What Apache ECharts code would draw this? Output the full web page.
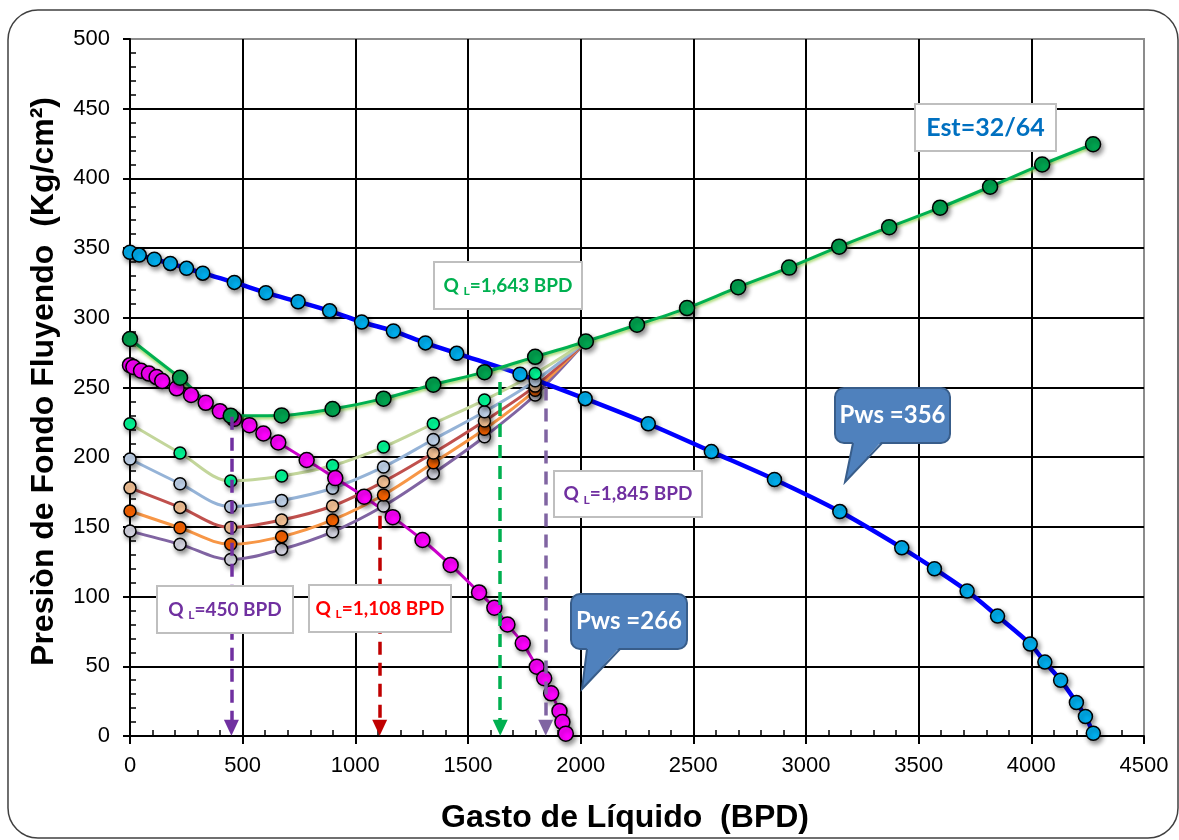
<!DOCTYPE html>
<html><head><meta charset="utf-8">
<script src="https://cdn.jsdelivr.net/npm/echarts@6/dist/echarts.min.js"></script>
<style>html,body{margin:0;padding:0;background:#fff}#c{width:1179px;height:840px}</style>
</head><body><div id="c"></div>
<script>
// ---- data ----
const qBlue = [0, 41, 108, 179, 251, 323, 463, 603, 746, 886, 1028, 1169, 1311, 1450, 1731, 2020, 2300, 2580, 2860, 3150, 3425, 3570, 3715, 3850, 3995, 4060, 4130, 4200, 4240, 4275];
const pBlue = [347, 345, 342, 339, 335.5, 332, 325.4, 318, 311.5, 305, 297, 290.5, 282, 274.5, 259.5, 242, 224, 204, 184, 161, 135, 120, 104, 86, 66, 53, 40, 24, 14, 2];

const qPink = [0, 15, 49, 84, 118, 143, 207, 271, 336, 399, 462, 530, 592, 658, 784, 911, 1039, 1166, 1298, 1423, 1549, 1617, 1675, 1743, 1805, 1838, 1869, 1906, 1919, 1934];
const pPink = [266, 264.7, 262, 260, 257.5, 254.6, 249.4, 244.6, 239, 233, 227.5, 223, 217, 210.6, 198, 185, 171.7, 157, 140.6, 122.7, 103, 92, 80, 66.5, 49.7, 41.4, 30.6, 18, 10, 1.7];

const qGreen = [0, 222, 447, 673, 899, 1125, 1346, 1573, 1798, 2023, 2250, 2472, 2699, 2925, 3147, 3369, 3595, 3817, 4048, 4274];
const pGreen = [284.8, 257, 229.8, 230, 234.6, 242, 252, 261, 272, 283, 295, 307, 322, 336, 351, 365, 379, 394, 410, 424.5];

const qLight = [0, 222, 447, 673, 899, 1125, 1346, 1573, 1798, 2023];
const pLtGreen = [224, 203, 183, 186.5, 194, 207.3, 224, 241, 260, 283];
const pLtBlue  = [198.7, 181, 164.5, 169, 177.7, 193, 212.7, 232.6, 254.9, 283];
const pRed     = [178, 164, 149.6, 155, 165, 182.4, 203, 226, 251, 283];
const pOrange  = [161.4, 149.4, 137.5, 143, 155, 172.9, 196, 220, 248, 283];
const pPurple  = [147, 137.5, 126.6, 134, 146.5, 165, 188.4, 214.7, 244.6, 283];

const arrowQ    = [450, 1108, 1643, 1845];
const arrowTop  = [229, 158, 254, 250];
const arrowBot  = [6, 6, 6, 6];

const xTitle = 'Gasto de Líquido  (BPD)';
const yTitle = 'Presiòn de Fondo Fluyendo  (Kg/cm²)';

// ---- chart ----
const chart = echarts.init(document.getElementById('c'), null, {renderer: 'canvas'});
const pairs = (xs, ys) => xs.map((x, i) => [x, ys[i]]);
const lastNoSym = arr => arr.map((d, i) => i === arr.length - 1 ? {value: d, symbol: 'none'} : d);
const shadow = {shadowBlur: 5, shadowColor: 'rgba(0,0,0,0.45)', shadowOffsetX: 2, shadowOffsetY: 3};

function lightSeries(ys, lineColor, markColor) {
  return {
    type: 'line', data: lastNoSym(pairs(qLight, ys)), smooth: 0.35, clip: false,
    symbol: 'circle', symbolSize: 12,
    lineStyle: {color: lineColor, width: 3},
    itemStyle: Object.assign({color: markColor, borderColor: '#000', borderWidth: 1.5}, shadow),
    emphasis: {disabled: true}, silent: true
  };
}

const arrowColors = ['#7030a0', '#c00000', '#00b050', '#8064a2'];
const markData = arrowQ.map((q, i) => [
  {coord: [q, arrowTop[i]], lineStyle: {color: arrowColors[i]}, itemStyle: {color: arrowColors[i]}},
  {coord: [q, arrowBot[i]], lineStyle: {color: arrowColors[i]}, itemStyle: {color: arrowColors[i]}}
]);

const labFont = 'Lato, "Open Sans", sans-serif';
function qLabel(x, y, w, h, tail, color) {
  return [
    {type: 'rect', z: 100, shape: {x: x, y: y, width: w, height: h}, style: {fill: '#fff', stroke: '#bfbfbf', lineWidth: 2}},
    {type: 'text', z: 101, style: {
      text: '{a|Q }{b|L}{a|' + tail + '}', x: x + w / 2, y: y + h / 2, align: 'center', verticalAlign: 'middle',
      rich: {
        a: {fontFamily: labFont, fontWeight: 'bold', fontSize: 19, fill: color, lineHeight: 24},
        b: {fontFamily: labFont, fontWeight: 'bold', fontSize: 12, fill: color, verticalAlign: 'bottom'}
      }}}
  ];
}
function callout(x, y, w, h, tail, text) {
  return [
    {type: 'rect', z: 100, shape: {x: x, y: y, width: w, height: h, r: 9}, style: {fill: '#4f81bd', stroke: '#385d8a', lineWidth: 2}},
    {type: 'polygon', z: 101, shape: {points: [[tail[0], y + h - 2], [tail[1], y + h - 2], tail[2]]}, style: {fill: '#4f81bd'}},
    {type: 'polyline', z: 102, shape: {points: [[tail[0], y + h], tail[2], [tail[1], y + h]]}, style: {stroke: '#385d8a', lineWidth: 2, fill: null}},
    {type: 'text', z: 103, style: {text: text, x: x + w / 2, y: y + h / 2, align: 'center', verticalAlign: 'middle',
      fontFamily: labFont, fontWeight: 'bold', fontSize: 24, fill: '#fff'}}
  ];
}

const graphics = [].concat(
  [{type: 'rect', z: 0, silent: true, shape: {x: 8, y: 10, width: 1170, height: 828, r: 30}, style: {fill: null, stroke: '#404040', lineWidth: 1.5}}],
  qLabel(434, 262, 148, 47, '=1,643 BPD', '#00b050'),
  qLabel(554, 471, 148, 46, '=1,845 BPD', '#7030a0'),
  qLabel(157, 586, 136, 47, '=450 BPD', '#7030a0'),
  qLabel(309, 585, 142, 47, '=1,108 BPD', '#ff0000'),
  [
    {type: 'rect', z: 100, shape: {x: 915, y: 104, width: 141, height: 47}, style: {fill: '#fff', stroke: '#bfbfbf', lineWidth: 2}},
    {type: 'text', z: 101, style: {text: 'Est=32/64', x: 985.5, y: 127.5, align: 'center', verticalAlign: 'middle',
      fontFamily: labFont, fontWeight: 'bold', fontSize: 25, fill: '#0070c0'}}
  ],
  callout(835, 388, 115, 55, [853, 882, [845, 482]], 'Pws =356'),
  callout(571, 594, 116, 55, [587, 620, [582, 689]], 'Pws =266')
);

const axisFont = {fontFamily: '"Liberation Sans", Arial, sans-serif', fontSize: 22, color: '#000'};
const titleFont = {fontFamily: '"Liberation Sans", Arial, sans-serif', fontSize: 32, fontWeight: 'bold', color: '#000'};

const option = {
  animation: false,
  backgroundColor: '#fff',
  grid: {left: 130, top: 39, right: 35, bottom: 104, show: true, borderColor: '#8c8c8c', borderWidth: 2, backgroundColor: 'transparent'},
  xAxis: [{
    type: 'value', min: 0, max: 4500, interval: 500,
    name: xTitle, nameLocation: 'middle', nameGap: 66,
    nameTextStyle: Object.assign({padding: [0, 24, 0, 0]}, titleFont),
    axisLine: {show: true, lineStyle: {color: '#000', width: 2}},
    axisTick: {show: true, length: 8, lineStyle: {color: '#000', width: 2}},
    axisLabel: Object.assign({margin: 19, formatter: v => String(v)}, axisFont),
    splitLine: {show: true, showMaxLine: false, lineStyle: {color: '#000', width: 2}}
  }, {
    type: 'value', min: 0, max: 4500, interval: 500, position: 'bottom',
    axisLine: {show: false}, axisLabel: {show: false}, splitLine: {show: false},
    axisTick: {show: true, inside: true, length: 0, lineStyle: {width: 0}},
    minorTick: {show: true, splitNumber: 5, length: 6, lineStyle: {color: '#000', width: 1.5}}
  }],
  yAxis: [{
    type: 'value', min: 0, max: 500, interval: 50,
    name: yTitle, nameLocation: 'middle', nameGap: 70, nameRotate: 90,
    nameTextStyle: Object.assign({padding: [0, 0, 0, 12]}, titleFont),
    axisLine: {show: true, lineStyle: {color: '#000', width: 2}},
    axisTick: {show: true, length: 7, lineStyle: {color: '#000', width: 2}},
    axisLabel: Object.assign({margin: 20, formatter: v => String(v)}, axisFont),
    splitLine: {show: true, showMaxLine: false, lineStyle: {color: '#000', width: 2}}
  }, {
    type: 'value', min: 0, max: 500, interval: 50, position: 'left',
    axisLine: {show: false}, axisLabel: {show: false}, splitLine: {show: false},
    axisTick: {show: true, inside: true, length: 0, lineStyle: {width: 0}},
    minorTick: {show: true, splitNumber: 5, length: 6, lineStyle: {color: '#000', width: 1.5}}
  }],
  series: [
    {
      type: 'line', data: [], silent: true,
      markLine: {
        silent: true, symbol: ['none', 'triangle'], symbolSize: [15, 16],
        label: {show: false},
        lineStyle: {type: [13, 8], width: 3.5},
        data: markData
      }
    },
    lightSeries(pPurple, '#8064a2', '#dcdce8'),
    lightSeries(pOrange, '#f79646', '#ff6600'),
    lightSeries(pRed, '#c0504d', '#fcc89a'),
    lightSeries(pLtBlue, '#95b3d7', '#c6d9f1'),
    lightSeries(pLtGreen, '#c3d69b', '#00ff99'),
    {
      type: 'line', data: pairs(qPink, pPink), smooth: 0.3, clip: false,
      symbol: 'circle', symbolSize: 15,
      lineStyle: {color: '#cc00cc', width: 3},
      itemStyle: Object.assign({color: '#ff00ff', borderColor: '#000', borderWidth: 1.5}, shadow),
      emphasis: {disabled: true}, silent: true
    },
    {
      type: 'line', data: pairs(qBlue, pBlue), smooth: 0.3, clip: false,
      symbol: 'circle', symbolSize: 14,
      lineStyle: {color: '#0000ff', width: 4.5},
      itemStyle: Object.assign({color: '#00b0f0', borderColor: '#000', borderWidth: 1.5}, shadow),
      emphasis: {disabled: true}, silent: true
    },
    {
      type: 'line', data: pairs(qGreen, pGreen), smooth: 0.3, clip: false,
      symbol: 'circle', symbolSize: 15,
      lineStyle: {color: '#00b050', width: 3, shadowBlur: 3, shadowColor: 'rgba(146,208,80,0.9)', shadowOffsetY: 2},
      itemStyle: Object.assign({color: '#00a550', borderColor: '#000', borderWidth: 1.5}, shadow),
      emphasis: {disabled: true}, silent: true
    }
  ],
  graphic: {elements: graphics}
};
chart.setOption(option);
</script>
</body></html>
